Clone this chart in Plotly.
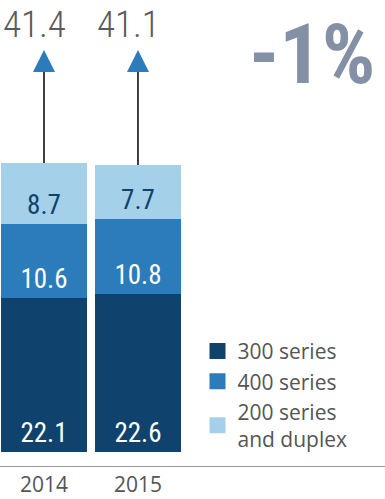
import plotly.graph_objects as go

years = ["2014", "2015"]
series_names = ["300 series", "400 series", "200 series<br>and duplex"]
s300 = [22.1, 22.6]
s400 = [10.6, 10.8]
s200 = [8.7, 7.7]
totals = [41.4, 41.1]

colors = ["#10426e", "#2c7bba", "#a5d0ea"]
label_colors = ["#ffffff", "#ffffff", "#10426e"]

NARROW = "Roboto Condensed, DejaVu Sans Condensed, Liberation Sans Narrow, sans-serif"
HUMAN = "Open Sans, Noto Sans, sans-serif"

fig = go.Figure()
for name, vals, c, lc in zip(series_names, [s300, s400, s200], colors, label_colors):
    fig.add_trace(go.Bar(
        x=years, y=vals, name=name, showlegend=False,
        marker=dict(color=c, line=dict(width=0)),
        texttemplate="%{y:.1f}", textposition="inside", insidetextanchor="start",
        textangle=0,
        insidetextfont=dict(family=NARROW, size=27, color=lc),
        hoverinfo="skip",
    ))

# legend entries with larger square swatches
for name, c in zip(series_names, colors):
    fig.add_trace(go.Scatter(
        x=[None], y=[None], mode="markers", name=name,
        marker=dict(symbol="square", size=17, color=c, line=dict(width=0)),
        hoverinfo="skip",
    ))

arrow_tip = 57.6  # level of arrow tips (layout constant)
for yr, tot in zip(years, totals):
    fig.add_trace(go.Scatter(
        x=[yr, yr], y=[tot, arrow_tip - 2], mode="lines",
        line=dict(color="#000000", width=1.5), showlegend=False, hoverinfo="skip",
    ))
fig.add_trace(go.Scatter(
    x=years, y=[arrow_tip] * len(years), mode="markers",
    marker=dict(symbol="arrow-up", size=22, color="#2c7bba", line=dict(width=0)),
    showlegend=False, hoverinfo="skip",
))

for i, tot in enumerate(totals):
    fig.add_annotation(
        x=i, y=arrow_tip, xref="x", yref="y", text=f"{tot:.1f}",
        showarrow=False, yanchor="bottom", yshift=2, xshift=-9,
        font=dict(family=NARROW, size=37, color="#5a5a5a", weight=300),
    )

change = round((totals[1] - totals[0]) / totals[0] * 100)
fig.add_annotation(
    x=312 / 385, y=(466 - 54) / 466, xref="paper", yref="paper",
    text=f"{change}%", showarrow=False, xanchor="center", yanchor="middle",
    font=dict(family=NARROW, size=84, color="#8490a6", weight="bold"),
)

fig.update_layout(
    width=385, height=499,
    margin=dict(l=0, r=0, t=0, b=33),
    paper_bgcolor="white", plot_bgcolor="white",
    barmode="stack", bargap=1 - 86 / 94,
    showlegend=True,
    legend=dict(
        x=0.513, y=0.29, xanchor="left", yanchor="top",
        traceorder="normal", itemsizing="trace", bgcolor="rgba(0,0,0,0)",
        font=dict(family=HUMAN, size=21, color="#555555"),
    ),
    xaxis=dict(
        type="category", range=[-0.468, 3.628], showgrid=False, zeroline=False,
        showline=True, linecolor="#9a9a9a", linewidth=1.2, ticks="",
        tickfont=dict(family=HUMAN, size=21, color="#555555"),
        fixedrange=True,
    ),
    yaxis=dict(range=[-2.005, 64.75], visible=False, fixedrange=True),
)

fig.write_html("out.html", post_script="document.body.style.margin='0';",
               config={"displayModeBar": False})
